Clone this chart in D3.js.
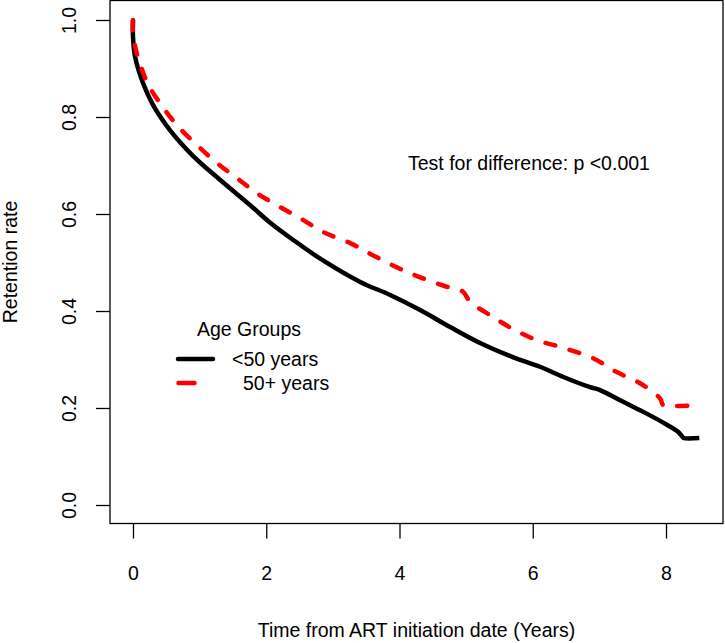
<!DOCTYPE html>
<html>
<head>
<meta charset="utf-8">
<script src="https://cdn.jsdelivr.net/npm/d3@7"></script>
<style>
  html, body { margin: 0; padding: 0; background: #fff; }
  svg text { font-family: "Liberation Sans", Arial, sans-serif; fill: #000; }
</style>
</head>
<body>
<svg id="chart" width="725" height="643"></svg>
<script>
// ---- data ----
const timeYoung = [0, 0, 0.03, 0.15, 0.3, 0.56, 0.9, 1.31, 1.76, 2.06, 2.4, 2.81, 3.41, 3.86, 4.31, 4.76, 5.21, 5.7, 6.11, 6.46, 6.86, 7.01, 7.31, 7.66, 8.02, 8.18, 8.25, 8.27, 8.5];
const survYoung = [1.0, 0.965, 0.925, 0.87, 0.825, 0.772, 0.72, 0.67, 0.618, 0.582, 0.547, 0.508, 0.46, 0.433, 0.402, 0.367, 0.334, 0.305, 0.285, 0.264, 0.243, 0.237, 0.216, 0.192, 0.165, 0.151, 0.14, 0.138, 0.138];
const timeOld = [0, 0, 0.06, 0.13, 0.23, 0.45, 0.68, 0.96, 1.26, 1.56, 1.86, 2.2, 2.55, 2.85, 3.26, 3.6, 3.96, 4.3, 4.71, 4.95, 5.06, 5.4, 5.7, 6.06, 6.46, 6.9, 7.26, 7.61, 7.91, 7.95, 7.98, 8.45];
const survOld = [1.0, 0.97, 0.93, 0.90, 0.866, 0.82, 0.78, 0.742, 0.705, 0.674, 0.643, 0.615, 0.588, 0.563, 0.54, 0.515, 0.49, 0.47, 0.45, 0.44, 0.419, 0.388, 0.363, 0.34, 0.324, 0.303, 0.274, 0.251, 0.22, 0.207, 0.205, 0.205];
const seriesNames = ["<50 years", "50+ years"];
const legendTitle = "Age Groups";
const xTicks = [0, 2, 4, 6, 8];
const yTicks = [0.0, 0.2, 0.4, 0.6, 0.8, 1.0];
const xTitle = "Time from ART initiation date (Years)";
const yTitle = "Retention rate";
const note = "Test for difference: p <0.001";

// ---- layout ----
const box = { left: 110, right: 723, top: 0.5, bottom: 523.5 };
const x = d3.scaleLinear().domain([0, 8]).range([133, 666]);
const y = d3.scaleLinear().domain([0, 1]).range([505, 20]);
const svg = d3.select("#chart");
const FS = "19.5px";

// box
svg.append("rect")
  .attr("x", box.left).attr("y", box.top)
  .attr("width", box.right - box.left).attr("height", box.bottom - box.top)
  .attr("fill", "none").attr("stroke", "#000").attr("stroke-width", 1.3);

// y axis
const gy = svg.append("g").attr("transform", `translate(${box.left},0)`)
  .call(d3.axisLeft(y).tickValues(yTicks).tickFormat(d3.format(".1f")).tickSize(14).tickSizeOuter(0));
gy.select(".domain").remove();
gy.selectAll(".tick line").attr("stroke", "#000").attr("stroke-width", 1.3);
gy.selectAll(".tick text")
  .attr("x", null).attr("dy", null)
  .attr("transform", "translate(-34,0) rotate(-90)")
  .attr("text-anchor", "middle")
  .style("font-size", FS).style("font-family", "'Liberation Sans', Arial, sans-serif");

// x axis
const gx = svg.append("g").attr("transform", `translate(0,${box.bottom})`)
  .call(d3.axisBottom(x).tickValues(xTicks).tickFormat(d3.format("d")).tickSize(15).tickSizeOuter(0));
gx.select(".domain").remove();
gx.selectAll(".tick line").attr("stroke", "#000").attr("stroke-width", 1.3);
gx.selectAll(".tick text")
  .attr("y", 56).attr("dy", null)
  .style("font-size", FS).style("font-family", "'Liberation Sans', Arial, sans-serif");

// axis titles
svg.append("text").attr("x", (box.left + box.right) / 2).attr("y", 637)
  .attr("text-anchor", "middle").style("font-size", FS).text(xTitle);
svg.append("text").attr("transform", `translate(17,${(box.top + box.bottom) / 2}) rotate(-90)`)
  .attr("text-anchor", "middle").style("font-size", FS).text(yTitle);

// curves
const line = d3.line().x(d => x(d[0])).y(d => y(d[1])).curve(d3.curveCatmullRom.alpha(0.5));
const young = timeYoung.map((t, i) => [t, survYoung[i]]);
const old = timeOld.map((t, i) => [t, survOld[i]]);
svg.append("path").datum(young).attr("d", line)
  .attr("fill", "none").attr("stroke", "#000").attr("stroke-width", 4.5)
  .attr("stroke-linejoin", "round").attr("stroke-linecap", "butt");
svg.append("path").datum(old).attr("d", line)
  .attr("fill", "none").attr("stroke", "#ff0000").attr("stroke-width", 4.5)
  .attr("stroke-dasharray", "10,15")
  .attr("stroke-linejoin", "round").attr("stroke-linecap", "round");

// annotation
svg.append("text").attr("x", 408).attr("y", 169.5).style("font-size", FS).text(note);

// legend
svg.append("text").attr("x", 197).attr("y", 336).style("font-size", FS).text(legendTitle);
svg.append("line").attr("x1", 178).attr("x2", 213).attr("y1", 359).attr("y2", 359)
  .attr("stroke", "#000").attr("stroke-width", 4.5).attr("stroke-linecap", "round");
svg.append("line").attr("x1", 178.5).attr("x2", 194.5).attr("y1", 383).attr("y2", 383)
  .attr("stroke", "#ff0000").attr("stroke-width", 4.5).attr("stroke-linecap", "round");
svg.append("text").attr("x", 232).attr("y", 366).style("font-size", FS).text(seriesNames[0]);
svg.append("text").attr("x", 243).attr("y", 390).style("font-size", FS).text(seriesNames[1]);
</script>
</body>
</html>
